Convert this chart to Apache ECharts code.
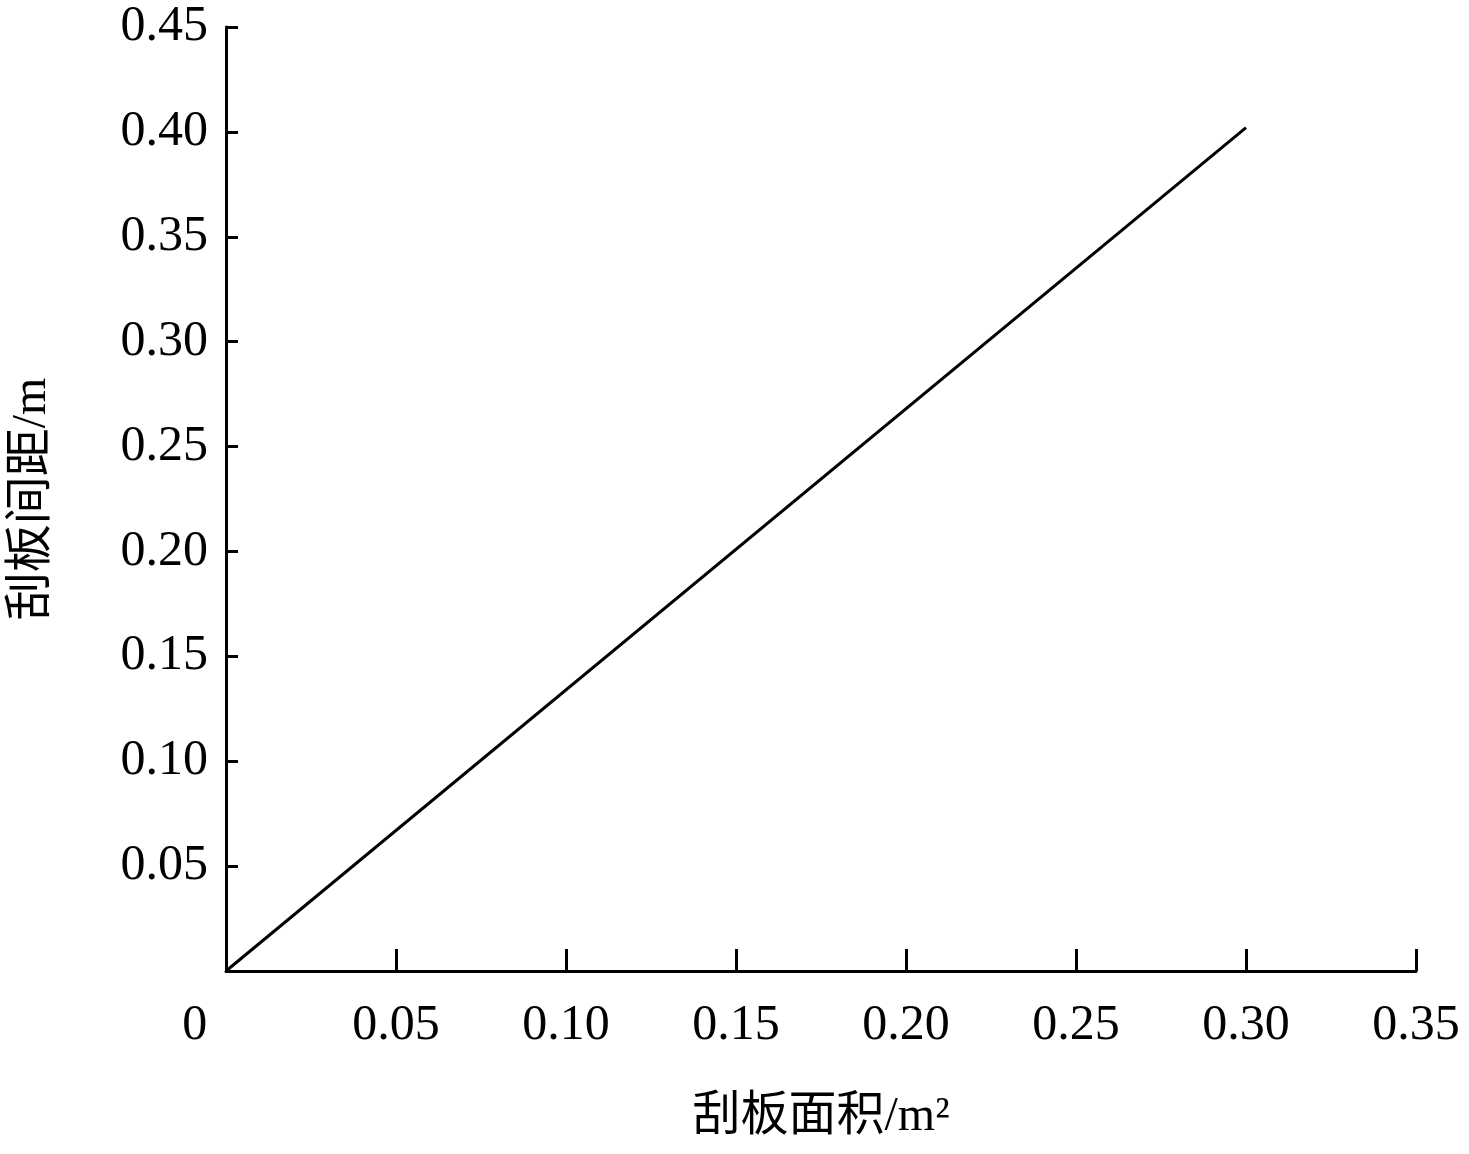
<!DOCTYPE html>
<html><head><meta charset="utf-8">
<script src="https://cdn.jsdelivr.net/npm/echarts@6/dist/echarts.min.js"></script>
<style>html,body{margin:0;padding:0;background:#fff}#c{width:1469px;height:1154px}</style>
</head><body><div id="c"></div>
<script>
const areaX = [0, 0.30];
const spacingY = [0, 0.402];
const xName = '刮板面积/m²';
const yName = '刮板间距/m';
const font = '"Liberation Serif","Times New Roman",serif';
const cjk = '"Liberation Serif","Noto Sans CJK SC",serif';
const chart = echarts.init(document.getElementById('c'));
chart.setOption({
  animation:false,
  grid:{left:209,right:53,top:27,bottom:183},
  xAxis:{type:'value',min:0,max:0.35,interval:0.05,
    name:xName,nameLocation:'middle',nameGap:122,
    nameTextStyle:{fontFamily:cjk,fontSize:48,color:'#000'},
    axisLine:{lineStyle:{color:'#000',width:3}},
    axisTick:{inside:true,length:22,lineStyle:{color:'#000',width:3}},
    splitLine:{show:false},
    axisLabel:{margin:30,fontFamily:font,fontSize:50,color:'#000',
      formatter:v=>v===0?'0     ':v.toFixed(2)}},
  yAxis:{type:'value',min:0,max:0.45,interval:0.05,
    name:yName,nameLocation:'middle',nameGap:170,
    nameTextStyle:{fontFamily:cjk,fontSize:48,color:'#000'},
    axisLine:{lineStyle:{color:'#000',width:3}},
    axisTick:{inside:true,length:12,lineStyle:{color:'#000',width:3}},
    splitLine:{show:false},
    axisLabel:{margin:18,fontFamily:font,fontSize:50,color:'#000',
      formatter:v=>v===0?'':v.toFixed(2)}},
  series:[{type:'line',data:areaX.map((x,i)=>[x,spacingY[i]]),
    showSymbol:false,lineStyle:{color:'#000',width:3}}]
});
</script></body></html>
